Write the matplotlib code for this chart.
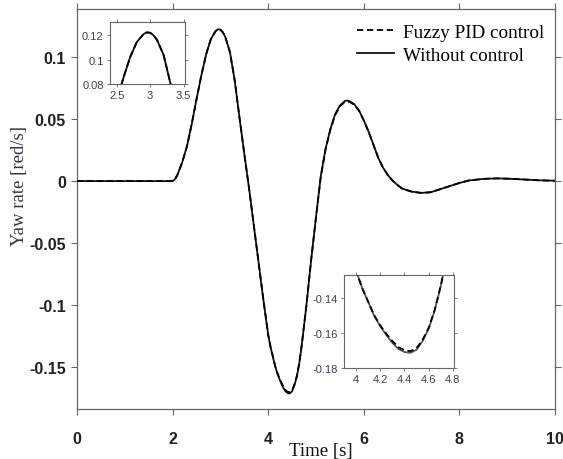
import matplotlib
matplotlib.use('Agg')
from matplotlib import pyplot as plt

matplotlib.rcParams['axes.unicode_minus'] = False

# yaw rate response (time in s, yaw rate in rad/s)
t = [0.0, 1.0, 2.0, 2.05, 2.1, 2.2, 2.3, 2.4, 2.5, 2.6, 2.7, 2.8, 2.9, 2.95,
     3.0, 3.05, 3.1, 3.2, 3.3, 3.4, 3.5, 3.6, 3.7, 3.8, 3.9, 4.0, 4.05, 4.1,
     4.15, 4.2, 4.25, 4.3, 4.35, 4.4, 4.45, 4.5, 4.55, 4.6, 4.65, 4.7, 4.8,
     4.9, 5.0, 5.1, 5.2, 5.3, 5.4, 5.5, 5.6, 5.65, 5.7, 5.8, 5.9, 6.0, 6.1,
     6.2, 6.3, 6.4, 6.5, 6.6, 6.7, 6.8, 7.0, 7.2, 7.4, 7.6, 7.8, 8.0, 8.2,
     8.5, 8.8, 9.1, 9.4, 9.7, 10.0]

without_ctrl = [0.0, 0.0, 0.0, 0.0015, 0.005, 0.015, 0.028, 0.046, 0.066,
                0.085, 0.102, 0.1145, 0.121, 0.1225, 0.1222, 0.120, 0.1165,
                0.104, 0.081, 0.051, 0.022, -0.006, -0.036, -0.066, -0.096,
                -0.124, -0.134, -0.142, -0.150, -0.156, -0.161, -0.1655,
                -0.1690, -0.1708, -0.1713, -0.1695, -0.1645, -0.1575, -0.1470,
                -0.1330, -0.1000, -0.0630, -0.0290, 0.0040, 0.0260, 0.0420,
                0.0540, 0.0610, 0.0645, 0.0650, 0.0645, 0.0620, 0.0570, 0.0490,
                0.0400, 0.0295, 0.0190, 0.0110, 0.0050, 0.0005, -0.0030,
                -0.0060, -0.0085, -0.0095, -0.0090, -0.0065, -0.0040, -0.0015,
                0.0005, 0.0018, 0.0022, 0.0018, 0.0012, 0.0006, 0.0003]

fuzzy_pid = [0.0, 0.0, 0.0, 0.0015, 0.005, 0.015, 0.028, 0.046, 0.066,
             0.085, 0.102, 0.1145, 0.121, 0.1224, 0.1221, 0.120, 0.1165,
             0.104, 0.081, 0.051, 0.022, -0.006, -0.036, -0.066, -0.096,
             -0.124, -0.134, -0.1418, -0.1497, -0.1555, -0.1603, -0.1645,
             -0.1680, -0.1698, -0.1703, -0.1686, -0.1638, -0.1570, -0.1466,
             -0.1328, -0.1000, -0.0632, -0.0293, 0.0035, 0.0255, 0.0413,
             0.0532, 0.0602, 0.0638, 0.0642, 0.0639, 0.0616, 0.0567, 0.0488,
             0.0398, 0.0294, 0.0190, 0.0110, 0.0050, 0.0005, -0.0030,
             -0.0060, -0.0085, -0.0095, -0.0090, -0.0065, -0.0040, -0.0015,
             0.0005, 0.0018, 0.0022, 0.0018, 0.0012, 0.0006, 0.0003]

xticks = [0, 2, 4, 6, 8, 10]
yticks = [-0.15, -0.1, -0.05, 0, 0.05, 0.1]
ytick_labels = ['-0.15', '-0.1', '-0.05', '0', '0.05', '0.1']

spine_gray = '#666666'
inset_text = '#3c3c5a'
lw = 1.3
dash = (0, (3.5, 2))

fig = plt.figure(figsize=(5.63, 4.60), dpi=100)
ax = fig.add_axes([77 / 563, 1 - 410 / 460, 478 / 563, 400 / 460])

ax.plot(t, fuzzy_pid, color='black', lw=lw, ls=dash, label='Fuzzy PID control', zorder=3)
ax.plot(t, without_ctrl, color='#111111', lw=lw, label='Without control', zorder=2)

ax.set_xlim(0, 10)
ax.set_ylim(-0.1838, 0.1388)
ax.set_xticks(xticks)
ax.set_yticks(yticks)
ax.set_yticklabels(ytick_labels)
for lab in ax.get_xticklabels() + ax.get_yticklabels():
    lab.set_family('Liberation Sans')
    lab.set_fontweight('bold')
    lab.set_fontsize(11.5)
    lab.set_color('#222222')
ax.tick_params(axis='both', direction='out', length=4, width=0.8, color=spine_gray,
               top=True, right=True, pad=4)
ax.tick_params(axis='x', pad=12)
for sp in ax.spines.values():
    sp.set_color(spine_gray)
    sp.set_linewidth(0.9)

ax.set_xlabel('Time [s]', family='Liberation Serif', fontsize=13.5, color='#111111')
ax.set_ylabel('Yaw rate [red/s]', family='Liberation Serif', fontsize=13.5, color='#333344')
ax.xaxis.set_label_coords(0.51, -0.083)
ax.yaxis.set_label_coords(-0.103, 0.56)

leg = ax.legend(loc='upper right', frameon=False, prop={'family': 'Liberation Serif', 'size': 13.8},
                handlelength=1.9, handletextpad=0.5, labelspacing=0.3,
                bbox_to_anchor=(1.008, 1.0), borderaxespad=0.35)


def style_inset(a, xt, yt, ytl):
    a.set_xticks(xt)
    a.set_yticks(yt)
    a.set_yticklabels(ytl)
    a.tick_params(axis='both', direction='out', length=2.5, width=0.6, color=spine_gray,
                  labelsize=8, labelcolor=inset_text, top=True, right=True, pad=2)
    for lab in a.get_xticklabels() + a.get_yticklabels():
        lab.set_family('Liberation Sans')
    for sp in a.spines.values():
        sp.set_color(spine_gray)
        sp.set_linewidth(0.8)


# inset around the first peak
ax1 = fig.add_axes([110 / 563, 1 - 85 / 460, 75 / 563, 62 / 460])
ax1.plot(t, fuzzy_pid, color='black', lw=lw, ls=dash, zorder=3)
ax1.plot(t, without_ctrl, color='#111111', lw=lw, zorder=2)
ax1.set_xlim(2.4, 3.52)
ax1.set_ylim(0.08, 0.131)
style_inset(ax1, [2.5, 3, 3.5], [0.08, 0.1, 0.12], ['0.08', '0.1', '0.12'])
ax1.set_xticklabels(['2.5', '3', '3.5'])

# inset around the minimum
ax2 = fig.add_axes([344 / 563, 1 - 369 / 460, 110 / 563, 93 / 460])
ax2.plot(t, fuzzy_pid, color='black', lw=lw, ls=dash, zorder=3)
ax2.plot(t, without_ctrl, color='#555555', lw=lw, zorder=2)
ax2.set_xlim(3.9, 4.81)
ax2.set_ylim(-0.18, -0.1265)
style_inset(ax2, [4, 4.2, 4.4, 4.6, 4.8], [-0.18, -0.16, -0.14], ['-0.18', '-0.16', '-0.14'])
ax2.set_xticklabels(['4', '4.2', '4.4', '4.6', '4.8'])

plt.savefig('out.png', dpi=100)
